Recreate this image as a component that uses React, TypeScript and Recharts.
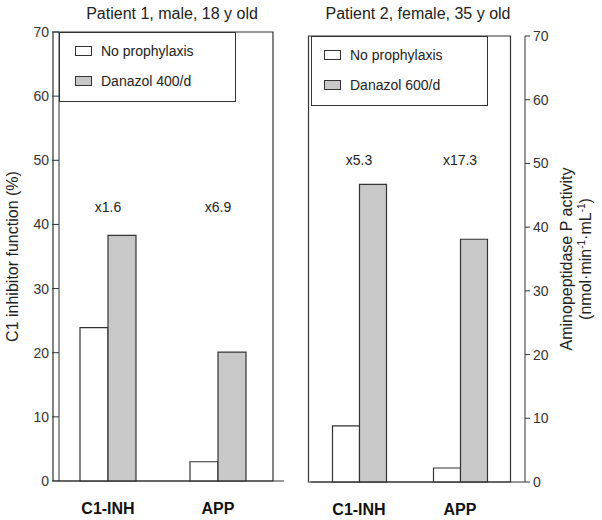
import {
  BarChart,
  Bar,
  XAxis,
  YAxis,
  ReferenceArea,
  ReferenceDot,
  Legend,
} from "recharts";

const categories = ["C1-INH", "APP"];
const yTicks = [0, 10, 20, 30, 40, 50, 60, 70];

const p1NoProphylaxis = [23.9, 3.0];
const p1Danazol = [38.3, 20.1];
const p1Folds = ["x1.6", "x6.9"];
const p1FoldY = [42.7, 42.7];

const p2NoProphylaxis = [8.8, 2.2];
const p2Danazol = [46.7, 38.1];
const p2Folds = ["x5.3", "x17.3"];
const p2FoldY = [50.5, 50.5];

const seriesOrder = ["none", "danazol"];

const font = "'Liberation Sans', Arial, sans-serif";
const ink = "#333";
const grayFill = "#c8c8c8";

const p1Data = categories.map((cat, i) => ({
  cat,
  none: p1NoProphylaxis[i],
  danazol: p1Danazol[i],
}));

const p2Data = categories.map((cat, i) => ({
  cat,
  none: p2NoProphylaxis[i],
  danazol: p2Danazol[i],
}));

function LegendBox({ payload, left }: any) {
  const items = [...(payload || [])].sort(
    (a: any, b: any) => seriesOrder.indexOf(a.dataKey) - seriesOrder.indexOf(b.dataKey)
  );
  return (
    <div
      style={{
        width: 177,
        height: 70,
        border: `1px solid ${ink}`,
        boxSizing: "border-box",
        background: "#fff",
        fontFamily: font,
        fontSize: 14,
        color: "#222",
        position: "relative",
      }}
    >
      {items.map((p: any, i: number) => (
        <div
          key={p.value}
          style={{
            position: "absolute",
            left: left,
            top: 11 + i * 30,
            height: 14,
            display: "flex",
            alignItems: "center",
            whiteSpace: "nowrap",
          }}
        >
          <span
            style={{
              display: "inline-block",
              width: 17,
              height: 10,
              border: `1px solid ${ink}`,
              background: p.color,
              boxSizing: "border-box",
            }}
          />
          <span style={{ marginLeft: 9 }}>{p.value}</span>
        </div>
      ))}
    </div>
  );
}

const tickStyle = { fontSize: 14, fill: ink, fontFamily: font };
const catTickStyle = { fontSize: 16, fill: "#111", fontWeight: "bold", fontFamily: font };

function Title({ text, x }: { text: string; x: number }) {
  return (
    <div
      style={{
        position: "absolute",
        left: x - 150,
        width: 300,
        top: 5,
        textAlign: "center",
        fontFamily: font,
        fontSize: 16,
        color: "#222",
      }}
    >
      {text}
    </div>
  );
}

export default function App() {
  return (
    <div
      style={{
        position: "absolute",
        left: 0,
        top: 0,
        width: 602,
        height: 520,
        background: "#fff",
      }}
    >
      <Title text="Patient 1, male, 18 y old" x={172} />
      <Title text="Patient 2, female, 35 y old" x={418} />

      <div style={{ position: "absolute", left: 0, top: 0 }}>
        <BarChart
          width={300}
          height={520}
          data={p1Data}
          margin={{ top: 32, right: 16, bottom: 0, left: 0 }}
          barGap={0}
        >
          <XAxis
            dataKey="cat"
            height={39}
            tickLine={false}
            tickMargin={16}
            axisLine={{ stroke: ink }}
            tick={catTickStyle}
            padding={{ left: -6, right: 11 }}
          />
          <YAxis
            domain={[0, 70]}
            ticks={yTicks}
            interval={0}
            width={59}
            tickSize={7}
            tickMargin={3}
            axisLine={{ stroke: ink }}
            tickLine={{ stroke: ink }}
            tick={tickStyle}
            label={{
              content: ({ viewBox }: any) => {
                const cy = viewBox.y + viewBox.height / 2;
                return (
                  <text
                    x={18}
                    y={cy}
                    transform={`rotate(-90, 18, ${cy})`}
                    textAnchor="middle"
                    fontSize={16}
                    fill="#222"
                    fontFamily={font}
                  >
                    C1 inhibitor function (%)
                  </text>
                );
              },
            }}
          />
          <ReferenceArea
            y1={0}
            y2={70}
            fill="none"
            stroke={ink}
            strokeWidth={1.2}
            ifOverflow="visible"
          />
          <Bar
            dataKey="none"
            name="No prophylaxis"
            fill="#fff"
            stroke={ink}
            strokeWidth={1.2}
            barSize={28}
            isAnimationActive={false}
          />
          <Bar
            dataKey="danazol"
            name="Danazol 400/d"
            fill={grayFill}
            stroke={ink}
            strokeWidth={1.2}
            barSize={28}
            isAnimationActive={false}
          />
          {categories.map((cat, i) => (
            <ReferenceDot
              key={cat}
              x={cat}
              y={p1FoldY[i]}
              r={0}
              fill="none"
              stroke="none"
              label={{
                value: p1Folds[i],
                position: "center",
                fontSize: 14,
                fill: "#222",
                fontFamily: font,
              }}
            />
          ))}
          <Legend
            layout="vertical"
            align="center"
            verticalAlign="middle"
            width={177}
            height={70}
            wrapperStyle={{ left: 59, top: 32 }}
            content={(props: any) => <LegendBox payload={props.payload} left={15} />}
          />
        </BarChart>
      </div>

      <div style={{ position: "absolute", left: 300, top: 0 }}>
        <BarChart
          width={302}
          height={520}
          data={p2Data}
          margin={{ top: 36, right: 0, bottom: 0, left: 11 }}
          barGap={0}
        >
          <XAxis
            dataKey="cat"
            height={38}
            tickLine={false}
            tickMargin={16}
            axisLine={{ stroke: ink }}
            tick={catTickStyle}
            padding={{ left: -2.5, right: 14.5 }}
          />
          <YAxis
            orientation="right"
            domain={[0, 70]}
            ticks={yTicks}
            interval={0}
            width={77}
            tickSize={5}
            tickMargin={3}
            axisLine={{ stroke: ink }}
            tickLine={{ stroke: ink }}
            tick={{ ...tickStyle, textAnchor: "start" }}
            label={{
              content: ({ viewBox }: any) => {
                const cy = viewBox.y + viewBox.height / 2;
                const x1 = 272;
                const x2 = 291;
                return (
                  <g fontFamily={font} fill="#222" fontSize={16}>
                    <text
                      x={x1}
                      y={cy}
                      transform={`rotate(-90, ${x1}, ${cy})`}
                      textAnchor="middle"
                    >
                      Aminopeptidase P activity
                    </text>
                    <text
                      x={x2}
                      y={cy}
                      transform={`rotate(-90, ${x2}, ${cy})`}
                      textAnchor="middle"
                    >
                      (nmol·min
                      <tspan dy={-6} fontSize={10}>
                        -1
                      </tspan>
                      <tspan dy={6}>·mL</tspan>
                      <tspan dy={-6} fontSize={10}>
                        -1
                      </tspan>
                      <tspan dy={6}>)</tspan>
                    </text>
                  </g>
                );
              },
            }}
          />
          <ReferenceArea
            y1={0}
            y2={70}
            fill="none"
            stroke={ink}
            strokeWidth={1.2}
            ifOverflow="visible"
          />
          <Bar
            dataKey="none"
            name="No prophylaxis"
            fill="#fff"
            stroke={ink}
            strokeWidth={1.2}
            barSize={27}
            isAnimationActive={false}
          />
          <Bar
            dataKey="danazol"
            name="Danazol 600/d"
            fill={grayFill}
            stroke={ink}
            strokeWidth={1.2}
            barSize={27}
            isAnimationActive={false}
          />
          {categories.map((cat, i) => (
            <ReferenceDot
              key={cat}
              x={cat}
              y={p2FoldY[i]}
              r={0}
              fill="none"
              stroke="none"
              label={{
                value: p2Folds[i],
                position: "center",
                fontSize: 14,
                fill: "#222",
                fontFamily: font,
              }}
            />
          ))}
          <Legend
            layout="vertical"
            align="center"
            verticalAlign="middle"
            width={177}
            height={72}
            wrapperStyle={{ left: 11, top: 36 }}
            content={(props: any) => <LegendBox payload={props.payload} left={12} />}
          />
        </BarChart>
      </div>
    </div>
  );
}
